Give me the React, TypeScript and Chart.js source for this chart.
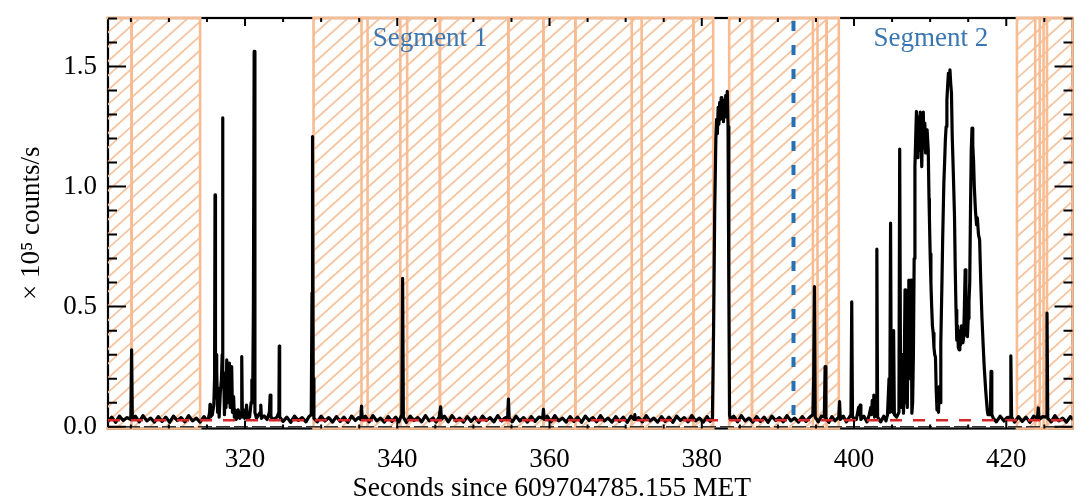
import React, { useEffect, useRef } from 'react';
import Chart from 'chart.js/auto';

// axis ranges (seconds since 609704785.155 MET, x10^5 counts/s)
const xRange = [302, 428.7];
const yRange = [-0.0075, 1.7017];
const xMajor = [320, 340, 360, 380, 400, 420];
const yMajor = [0, 0.5, 1.0, 1.5];
const yLabels = ['0.0', '0.5', '1.0', '1.5'];
const xTitle = 'Seconds since 609704785.155 MET';
const xTitleAt = 360.3;
const yTitle = '× 10⁵ counts/s';

// excluded (hatched) time intervals
const maskStart = [300, 305.1, 329.0, 335.3, 340.4, 345.6, 354.6, 359.2, 363.4, 370.8, 378.9, 383.6, 386.6, 394.6, 396.4, 421.4, 423.8, 424.9];
const maskEnd = [305.1, 314.1, 336.1, 341.3, 345.6, 354.6, 359.2, 363.4, 372.1, 378.9, 381.5, 386.6, 395.2, 396.4, 398.0, 424.4, 425.35, 428.7];

const segmentSplit = 392.05;
const segmentNames = ['Segment 1', 'Segment 2'];
const segmentNameX = [344.3, 410.1];
const segmentNameY = 1.584;

const backgroundLevel = 0.027;
const zeroLevel = 0;

// light curve [time, rate]
const lightCurve: [number, number][] = [
  [302.0, 0.022], [302.5, 0.04], [303.0, 0.018], [303.5, 0.044], [304.0, 0.026], [304.5, 0.038],
  [305.0, 0.03], [305.1, 0.32], [305.2, 0.03],
  [305.6, 0.044], [306.1, 0.02], [306.6, 0.046], [307.1, 0.024], [307.6, 0.036], [308.1, 0.019],
  [308.6, 0.042], [309.1, 0.022], [309.6, 0.04], [310.1, 0.018], [310.6, 0.044], [311.1, 0.026],
  [311.6, 0.038], [312.1, 0.02], [312.6, 0.046], [313.1, 0.024], [313.6, 0.036], [314.1, 0.019],
  [314.6, 0.042], [314.9, 0.03], [315.2, 0.035], [315.35, 0.06], [315.4, 0.093], [315.45, 0.04],
  [315.7, 0.05], [315.9, 0.09], [316.0, 0.2], [316.06, 0.965], [316.12, 0.25], [316.2, 0.3],
  [316.26, 0.12], [316.3, 0.236], [316.4, 0.06], [316.5, 0.16], [316.6, 0.04], [316.75, 0.14],
  [316.9, 0.195], [317.0, 0.3], [317.05, 1.286], [317.1, 0.2], [317.2, 0.224], [317.3, 0.05],
  [317.4, 0.2], [317.5, 0.08], [317.6, 0.278], [317.7, 0.1], [317.8, 0.22], [317.95, 0.265],
  [318.05, 0.08], [318.15, 0.2], [318.25, 0.25], [318.35, 0.06], [318.5, 0.125], [318.6, 0.04],
  [318.7, 0.07], [318.85, 0.03], [319.0, 0.05], [319.1, 0.07], [319.3, 0.035], [319.5, 0.05],
  [319.57, 0.292], [319.65, 0.04], [319.8, 0.07], [319.95, 0.035], [320.1, 0.05], [320.2, 0.09],
  [320.3, 0.035], [320.6, 0.04], [320.8, 0.1], [320.9, 0.195], [321.0, 0.1], [321.1, 0.5],
  [321.2, 1.5625], [321.3, 0.06], [321.5, 0.035], [321.8, 0.05], [322.0, 0.06], [322.07, 0.09],
  [322.15, 0.035], [322.5, 0.045], [322.9, 0.03], [323.2, 0.06], [323.3, 0.132], [323.4, 0.04],
  [323.8, 0.03], [324.2, 0.04], [324.45, 0.06], [324.5, 0.336], [324.55, 0.04],
  [325.0, 0.022], [325.5, 0.04], [326.0, 0.018], [326.5, 0.044], [327.0, 0.026], [327.5, 0.038],
  [328.0, 0.02], [328.4, 0.042], [328.7, 0.05], [328.8, 0.557], [328.87, 1.208], [328.95, 0.2],
  [329.05, 0.035], [329.5, 0.02], [330.0, 0.044], [330.5, 0.024], [331.0, 0.038], [331.5, 0.019],
  [332.0, 0.042], [332.5, 0.022], [333.0, 0.04], [333.5, 0.018], [334.0, 0.044], [334.5, 0.026],
  [334.9, 0.038], [335.2, 0.03], [335.3, 0.086], [335.4, 0.03], [335.8, 0.044], [336.3, 0.02],
  [336.8, 0.046], [337.3, 0.024], [337.8, 0.036], [338.3, 0.019], [338.8, 0.042], [339.3, 0.022],
  [339.8, 0.04], [340.2, 0.02], [340.6, 0.05], [340.7, 0.618], [340.8, 0.04], [341.2, 0.018],
  [341.7, 0.044], [342.2, 0.026], [342.7, 0.038], [343.2, 0.02], [343.7, 0.046], [344.2, 0.024],
  [344.7, 0.036], [345.1, 0.019], [345.5, 0.04], [345.7, 0.083], [345.8, 0.03], [346.2, 0.044],
  [346.7, 0.02], [347.2, 0.046], [347.7, 0.024], [348.2, 0.036], [348.7, 0.019], [349.2, 0.042],
  [349.7, 0.022], [350.2, 0.04], [350.7, 0.018], [351.2, 0.044], [351.7, 0.026], [352.2, 0.038],
  [352.7, 0.02], [353.2, 0.046], [353.7, 0.024], [354.1, 0.036], [354.5, 0.04], [354.6, 0.115],
  [354.7, 0.035], [355.1, 0.02], [355.6, 0.044], [356.1, 0.024], [356.6, 0.038], [357.1, 0.019],
  [357.6, 0.042], [358.1, 0.022], [358.6, 0.04], [359.1, 0.035], [359.2, 0.072], [359.3, 0.03],
  [359.7, 0.044], [360.2, 0.02], [360.7, 0.046], [361.2, 0.024], [361.7, 0.036], [362.2, 0.019],
  [362.7, 0.042], [363.2, 0.022], [363.7, 0.04], [364.2, 0.018], [364.7, 0.044], [365.2, 0.026],
  [365.7, 0.038], [366.2, 0.02], [366.7, 0.046], [367.2, 0.024], [367.7, 0.036], [368.2, 0.019],
  [368.7, 0.042], [369.2, 0.022], [369.7, 0.04], [370.2, 0.018], [370.7, 0.044], [371.1, 0.03],
  [371.2, 0.05], [371.3, 0.03], [371.7, 0.038], [372.2, 0.02], [372.7, 0.046], [373.2, 0.024],
  [373.7, 0.036], [374.2, 0.019], [374.7, 0.042], [375.2, 0.022], [375.7, 0.04], [376.2, 0.018],
  [376.7, 0.044], [377.2, 0.026], [377.7, 0.038], [378.2, 0.02], [378.7, 0.046], [379.2, 0.024],
  [379.7, 0.036], [380.2, 0.019], [380.7, 0.042], [381.1, 0.022], [381.4, 0.035],
  [381.55, 0.4], [381.7, 0.9], [381.85, 1.2], [381.95, 1.28], [382.05, 1.22], [382.15, 1.33],
  [382.25, 1.26], [382.35, 1.35], [382.45, 1.28], [382.55, 1.37], [382.65, 1.3], [382.75, 1.36],
  [382.85, 1.27], [382.95, 1.35], [383.05, 1.29], [383.15, 1.38], [383.25, 1.31], [383.35, 1.396],
  [383.45, 1.25], [383.55, 0.6], [383.65, 0.05], [383.75, 0.03],
  [384.2, 0.044], [384.7, 0.02], [385.2, 0.046], [385.7, 0.024], [386.2, 0.036], [386.7, 0.019],
  [387.2, 0.042], [387.7, 0.022], [388.2, 0.04], [388.7, 0.018], [389.2, 0.044], [389.7, 0.026],
  [390.2, 0.038], [390.7, 0.02], [391.2, 0.046], [391.7, 0.024], [392.2, 0.036], [392.7, 0.019],
  [393.2, 0.042], [393.7, 0.022], [394.2, 0.04], [394.6, 0.05], [394.7, 0.208], [394.8, 0.583],
  [394.9, 0.04], [395.3, 0.02], [395.7, 0.044], [396.1, 0.04], [396.2, 0.25], [396.3, 0.035],
  [396.7, 0.018], [397.1, 0.042], [397.5, 0.024], [398.0, 0.04], [398.1, 0.104], [398.2, 0.03],
  [398.6, 0.044], [399.0, 0.02], [399.4, 0.04], [399.6, 0.05], [399.7, 0.52], [399.8, 0.04],
  [400.3, 0.03], [400.6, 0.08], [400.7, 0.05], [400.8, 0.09], [400.9, 0.03], [401.3, 0.044],
  [401.7, 0.02], [402.0, 0.05], [402.2, 0.08], [402.3, 0.05], [402.4, 0.11], [402.5, 0.06],
  [402.6, 0.132], [402.7, 0.04], [402.9, 0.06], [403.0, 0.739], [403.1, 0.04], [403.5, 0.02],
  [403.9, 0.044], [404.2, 0.024], [404.4, 0.05], [404.6, 0.2], [404.7, 0.06],
  [404.8, 0.8475], [404.9, 0.1], [405.1, 0.06], [405.2, 0.4], [405.3, 0.05], [405.6, 0.04],
  [405.9, 0.06], [406.0, 1.156], [406.1, 0.3], [406.2, 0.08], [406.35, 0.3], [406.5, 0.056],
  [406.6, 0.25], [406.7, 0.57], [406.8, 0.1], [406.9, 0.3], [407.0, 0.08], [407.1, 0.45],
  [407.2, 0.61], [407.3, 0.2], [407.4, 0.5], [407.5, 0.61], [407.6, 0.056], [407.7, 0.1],
  [407.8, 0.3], [407.9, 0.7], [408.0, 1.083], [408.1, 1.2], [408.2, 1.3125], [408.3, 1.12],
  [408.4, 1.28], [408.5, 1.29], [408.6, 1.15], [408.7, 1.31], [408.8, 1.2], [408.9, 1.083],
  [409.0, 1.25], [409.1, 1.31], [409.2, 1.16], [409.3, 1.264], [409.4, 1.14], [409.5, 1.22],
  [409.6, 1.236], [409.75, 1.153], [409.85, 0.95], [409.9, 0.875], [410.0, 0.72], [410.1, 0.6],
  [410.2, 0.5], [410.3, 0.42], [410.4, 0.39], [410.5, 0.33], [410.6, 0.3], [410.7, 0.29],
  [410.8, 0.15], [410.9, 0.07], [411.0, 0.09], [411.1, 0.06], [411.2, 0.167], [411.3, 0.1],
  [411.4, 0.35], [411.55, 0.6], [411.65, 0.79], [411.8, 1.015], [411.9, 1.1], [412.0, 1.195],
  [412.1, 1.25], [412.2, 1.36], [412.3, 1.42], [412.4, 1.4725], [412.5, 1.44], [412.6, 1.486],
  [412.7, 1.43], [412.8, 1.39], [412.9, 1.21], [413.05, 1.05], [413.2, 0.875], [413.3, 0.65],
  [413.4, 0.486], [413.5, 0.36], [413.6, 0.42], [413.7, 0.33], [413.8, 0.32], [413.9, 0.4],
  [414.0, 0.34], [414.1, 0.42], [414.2, 0.4], [414.3, 0.35], [414.4, 0.37], [414.5, 0.5],
  [414.6, 0.653], [414.7, 0.45], [414.8, 0.38], [414.9, 0.375], [415.0, 0.45], [415.1, 0.52],
  [415.2, 0.6], [415.3, 0.9], [415.4, 1.15], [415.5, 1.243], [415.6, 1.17], [415.7, 1.11],
  [415.8, 1.0], [415.95, 0.9], [416.1, 0.84], [416.2, 0.87], [416.35, 0.8], [416.5, 0.778],
  [416.65, 0.6], [416.8, 0.458], [416.95, 0.35], [417.1, 0.25], [417.3, 0.15], [417.5, 0.07],
  [417.6, 0.05], [417.7, 0.06], [417.9, 0.05], [418.0, 0.23], [418.1, 0.05], [418.3, 0.035],
  [418.7, 0.02], [419.2, 0.044], [419.7, 0.024], [420.1, 0.038], [420.5, 0.04], [420.6, 0.295],
  [420.7, 0.04], [421.1, 0.019], [421.6, 0.042], [422.1, 0.022], [422.6, 0.04], [423.1, 0.018],
  [423.6, 0.044], [424.1, 0.035], [424.2, 0.078], [424.3, 0.03], [424.8, 0.042], [425.25, 0.04],
  [425.35, 0.4725], [425.45, 0.035], [425.9, 0.02], [426.4, 0.046], [426.9, 0.024], [427.4, 0.036],
  [427.9, 0.019], [428.4, 0.042], [428.8, 0.03],
];

const FONT = 'Liberation Serif';
const HATCH = 'rgb(245, 196, 160)';
const EDGE = 'rgb(248, 188, 146)';
const SEG_BLUE = 'rgb(58, 118, 178)';

const overlay = {
  id: 'overlay',
  beforeDatasetsDraw(chart: any) {
    const { ctx, chartArea: a, scales } = chart;
    const x = scales.x;
    const w = a.right - a.left;
    const h = a.bottom - a.top;

    ctx.save();
    ctx.strokeStyle = '#000';
    ctx.lineWidth = 2.2;
    ctx.strokeRect(a.left, a.top, w, h);
    ctx.restore();

    const spans = maskStart.map((s, i) => [x.getPixelForValue(s), x.getPixelForValue(maskEnd[i])]);

    // hatch fill, clipped to the union of masked intervals
    ctx.save();
    ctx.beginPath();
    spans.forEach(([l, r]) => {
      const l2 = Math.max(l, a.left);
      const r2 = Math.min(r, a.right);
      if (r2 > l2) ctx.rect(l2, a.top, r2 - l2, h);
    });
    ctx.clip();
    ctx.strokeStyle = HATCH;
    ctx.lineWidth = 1.8;
    const run = h / 0.9;
    ctx.beginPath();
    for (let x0 = a.left - run; x0 < a.right + 20; x0 += 16) {
      ctx.moveTo(x0, a.bottom);
      ctx.lineTo(x0 + run, a.top);
    }
    ctx.stroke();
    ctx.restore();

    // interval outlines
    ctx.save();
    ctx.beginPath();
    ctx.rect(a.left - 2, a.top - 2, w + 4, h + 4);
    ctx.clip();
    ctx.strokeStyle = EDGE;
    ctx.lineWidth = 2.6;
    spans.forEach(([l, r]) => ctx.strokeRect(l, a.top, r - l, h));
    ctx.restore();
  },
  afterDatasetsDraw(chart: any) {
    const { ctx, chartArea: a, scales } = chart;
    const x = scales.x;
    const y = scales.y;

    // segment divider
    ctx.save();
    const sx = x.getPixelForValue(segmentSplit);
    ctx.strokeStyle = 'rgb(38, 112, 180)';
    ctx.lineWidth = 4;
    ctx.setLineDash([10, 14]);
    ctx.beginPath();
    ctx.moveTo(sx, a.top + 3);
    ctx.lineTo(sx, a.bottom);
    ctx.stroke();
    ctx.restore();

    // inward ticks on all four sides
    ctx.save();
    ctx.strokeStyle = '#000';
    ctx.lineWidth = 2;
    ctx.beginPath();
    for (let i = 0; i <= 17; i++) {
      const py = y.getPixelForValue(i / 10);
      const len = i % 5 === 0 ? 18 : 9;
      ctx.moveTo(a.left, py);
      ctx.lineTo(a.left + len, py);
      ctx.moveTo(a.right, py);
      ctx.lineTo(a.right - len, py);
    }
    for (let t = 305; t <= 428; t += 5) {
      const px = x.getPixelForValue(t);
      const len = t % 20 === 0 ? 8 : 4;
      ctx.moveTo(px, a.top);
      ctx.lineTo(px, a.top + len);
      ctx.moveTo(px, a.bottom);
      ctx.lineTo(px, a.bottom - len);
    }
    ctx.stroke();
    ctx.restore();

    // segment names
    ctx.save();
    ctx.fillStyle = SEG_BLUE;
    ctx.font = `27px "${FONT}"`;
    ctx.textAlign = 'center';
    ctx.textBaseline = 'alphabetic';
    segmentNames.forEach((name, i) => {
      ctx.fillText(name, x.getPixelForValue(segmentNameX[i]), y.getPixelForValue(segmentNameY));
    });

    // x axis title (sits left of the plot centre in the original)
    ctx.fillStyle = '#000';
    ctx.font = `27.5px "${FONT}"`;
    ctx.textBaseline = 'middle';
    ctx.fillText(xTitle, x.getPixelForValue(xTitleAt), 489);
    ctx.restore();
  },
};

const App: React.FC = () => {
  const canvasRef = useRef<HTMLCanvasElement>(null);
  const chartRef = useRef<Chart | null>(null);

  useEffect(() => {
    if (!canvasRef.current) return;
    if (chartRef.current) chartRef.current.destroy();

    const tickFont = { family: FONT, size: 27 };

    chartRef.current = new Chart(canvasRef.current, {
      type: 'line',
      data: {
        datasets: [
          {
            data: [{ x: xRange[0], y: backgroundLevel }, { x: xRange[1], y: backgroundLevel }],
            borderColor: 'rgb(214, 39, 40)',
            borderWidth: 2.5,
            borderDash: [12, 11],
            pointRadius: 0,
          },
          {
            data: lightCurve.map(([t, v]) => ({ x: t, y: v })),
            borderColor: '#000',
            borderWidth: 3.2,
            borderJoinStyle: 'round',
            pointRadius: 0,
          },
          {
            data: [{ x: xRange[0], y: zeroLevel }, { x: xRange[1], y: zeroLevel }],
            borderColor: '#333',
            borderWidth: 1.5,
            borderDash: [14, 4],
            pointRadius: 0,
          },
        ],
      },
      options: {
        animation: false,
        responsive: false,
        events: [],
        layout: { padding: { left: 0, top: 18, right: 7.5, bottom: 0 } },
        elements: { line: { tension: 0 } },
        plugins: { legend: { display: false }, tooltip: { enabled: false } },
        scales: {
          x: {
            type: 'linear',
            min: xRange[0],
            max: xRange[1],
            afterBuildTicks: (scale: any) => {
              scale.ticks = xMajor.map((v) => ({ value: v }));
            },
            afterFit: (scale: any) => {
              scale.height = 75.5;
              scale.paddingLeft = 0;
              scale.paddingRight = 0;
            },
            grid: { display: false, drawTicks: false },
            border: { display: false },
            ticks: { font: tickFont, color: '#000', padding: 15, maxRotation: 0, autoSkip: false },
            title: { display: false },
          },
          y: {
            type: 'linear',
            min: yRange[0],
            max: yRange[1],
            afterBuildTicks: (scale: any) => {
              scale.ticks = yMajor.map((v) => ({ value: v }));
            },
            afterFit: (scale: any) => {
              scale.width = 108;
              scale.paddingTop = 0;
              scale.paddingBottom = 0;
            },
            grid: { display: false, drawTicks: false },
            border: { display: false },
            ticks: {
              font: tickFont,
              color: '#000',
              padding: 11,
              callback: (v: any) => yLabels[yMajor.indexOf(Number(v))] ?? '',
            },
            title: {
              display: true,
              text: yTitle,
              font: { family: FONT, size: 27 },
              color: '#000',
              padding: { top: 16, bottom: 0 },
            },
          },
        },
      },
      plugins: [overlay],
    });

    return () => {
      if (chartRef.current) {
        chartRef.current.destroy();
        chartRef.current = null;
      }
    };
  }, []);

  return (
    <div style={{ position: 'fixed', left: 0, top: 0, width: 1080, height: 504, background: '#fff' }}>
      <canvas ref={canvasRef} width={1080} height={504}></canvas>
    </div>
  );
};

export default App;
